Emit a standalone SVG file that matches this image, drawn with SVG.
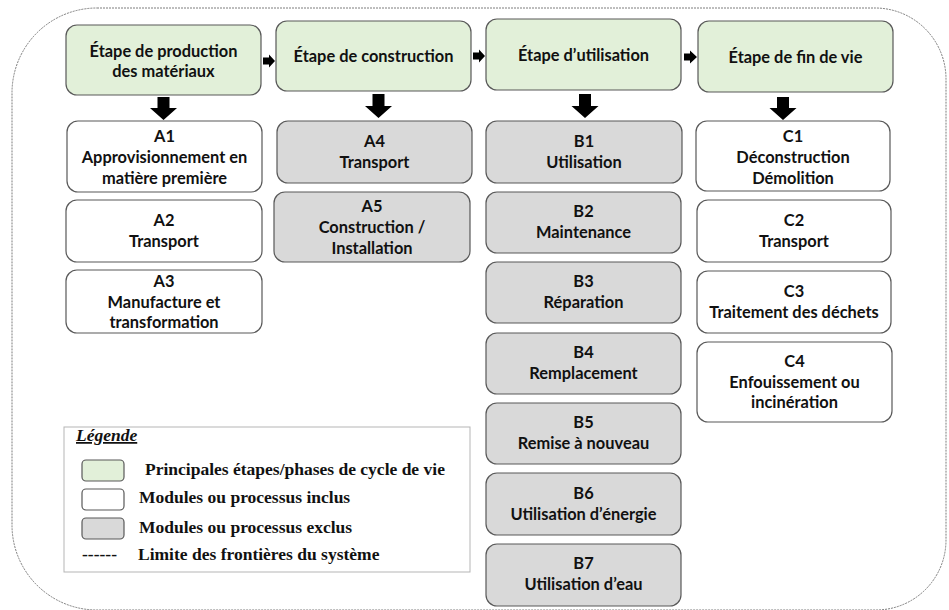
<svg xmlns="http://www.w3.org/2000/svg" width="949" height="610" viewBox="0 0 949 610">
  <defs>
    <style>
      .stage { fill: #e2f0d9; stroke: #595959; stroke-width: 1.2; }
      .incl { fill: #ffffff; stroke: #595959; stroke-width: 1.2; }
      .excl { fill: #d9d9d9; stroke: #595959; stroke-width: 1.2; }
      .t { font-family: Lato, "Open Sans", "Liberation Sans", sans-serif; font-weight: bold; font-size: 16.4px; fill: #111; text-anchor: middle; }
      .lg { font-family: "Liberation Serif", "Times New Roman", serif; font-weight: bold; font-size: 17.5px; fill: #111; }
      .arrow { fill: #000000; }
      .boundary { fill: none; stroke: #6e6e6e; stroke-width: 0.9; stroke-dasharray: 2 1; }
    </style>
  </defs>
  <rect width="949" height="610" fill="#ffffff"/>

  <!-- system boundary -->
  <path class="boundary" d="M 97 8 L 875 8 A 71 71 0 0 1 946 79 L 946 540 A 70 70 0 0 1 876 610 L 97 610 A 85 85 0 0 1 12 525 L 12 93 A 85 85 0 0 1 97 8 Z"/>

  <!-- life-cycle stages -->
  <g id="stage-production">
    <rect class="stage" x="66" y="25" width="195" height="70" rx="11"/>
    <text class="t" x="163.5" y="57">Étape de production</text>
    <text class="t" x="163.5" y="77">des matériaux</text>
  </g>
  <g id="stage-construction">
    <rect class="stage" x="276" y="21" width="195" height="70" rx="11"/>
    <text class="t" x="373.5" y="62">Étape de construction</text>
  </g>
  <g id="stage-utilisation">
    <rect class="stage" x="486" y="19" width="195" height="71" rx="11"/>
    <text class="t" x="583.5" y="61">Étape d’utilisation</text>
  </g>
  <g id="stage-fin-de-vie">
    <rect class="stage" x="698" y="21" width="195" height="71" rx="11"/>
    <text class="t" x="795.5" y="63">Étape de fin de vie</text>
  </g>

  <!-- modules A1-A3 -->
  <g id="A1">
    <rect class="incl" x="67" y="121" width="195" height="71" rx="11"/>
    <text class="t" x="164.5" y="142">A1</text>
    <text class="t" x="164.5" y="163">Approvisionnement en</text>
    <text class="t" x="164.5" y="184">matière première</text>
  </g>
  <g id="A2">
    <rect class="incl" x="66" y="200" width="196" height="62" rx="11"/>
    <text class="t" x="164" y="226">A2</text>
    <text class="t" x="164" y="247">Transport</text>
  </g>
  <g id="A3">
    <rect class="incl" x="66" y="270" width="196" height="63" rx="11"/>
    <text class="t" x="164" y="287">A3</text>
    <text class="t" x="164" y="308">Manufacture et</text>
    <text class="t" x="164" y="328">transformation</text>
  </g>

  <!-- modules A4-A5 -->
  <g id="A4">
    <rect class="excl" x="277" y="121" width="195" height="62" rx="11"/>
    <text class="t" x="374.5" y="147">A4</text>
    <text class="t" x="374.5" y="168">Transport</text>
  </g>
  <g id="A5">
    <rect class="excl" x="274" y="192" width="196" height="70" rx="11"/>
    <text class="t" x="372" y="212">A5</text>
    <text class="t" x="372" y="233">Construction /</text>
    <text class="t" x="372" y="254">Installation</text>
  </g>

  <!-- modules B1-B7 -->
  <g id="B1">
    <rect class="excl" x="486" y="121" width="196" height="62" rx="11"/>
    <text class="t" x="584" y="147">B1</text>
    <text class="t" x="584" y="168">Utilisation</text>
  </g>
  <g id="B2">
    <rect class="excl" x="486" y="192" width="195" height="61" rx="11"/>
    <text class="t" x="583.5" y="217">B2</text>
    <text class="t" x="583.5" y="238">Maintenance</text>
  </g>
  <g id="B3">
    <rect class="excl" x="486" y="262" width="195" height="61" rx="11"/>
    <text class="t" x="583.5" y="287">B3</text>
    <text class="t" x="583.5" y="308">Réparation</text>
  </g>
  <g id="B4">
    <rect class="excl" x="486" y="333" width="195" height="61" rx="11"/>
    <text class="t" x="583.5" y="358">B4</text>
    <text class="t" x="583.5" y="379">Remplacement</text>
  </g>
  <g id="B5">
    <rect class="excl" x="486" y="403" width="195" height="61" rx="11"/>
    <text class="t" x="583.5" y="428">B5</text>
    <text class="t" x="583.5" y="449">Remise à nouveau</text>
  </g>
  <g id="B6">
    <rect class="excl" x="486" y="473" width="195" height="62" rx="11"/>
    <text class="t" x="583.5" y="499">B6</text>
    <text class="t" x="583.5" y="520">Utilisation d’énergie</text>
  </g>
  <g id="B7">
    <rect class="excl" x="486" y="544" width="195" height="62" rx="11"/>
    <text class="t" x="583.5" y="569">B7</text>
    <text class="t" x="583.5" y="590">Utilisation d’eau</text>
  </g>

  <!-- modules C1-C4 -->
  <g id="C1">
    <rect class="incl" x="696" y="121" width="194" height="70" rx="11"/>
    <text class="t" x="793" y="142">C1</text>
    <text class="t" x="793" y="163">Déconstruction</text>
    <text class="t" x="793" y="184">Démolition</text>
  </g>
  <g id="C2">
    <rect class="incl" x="697" y="200" width="194" height="62" rx="11"/>
    <text class="t" x="794" y="226">C2</text>
    <text class="t" x="794" y="247">Transport</text>
  </g>
  <g id="C3">
    <rect class="incl" x="697" y="271" width="194" height="62" rx="11"/>
    <text class="t" x="794" y="297">C3</text>
    <text class="t" x="794" y="318">Traitement des déchets</text>
  </g>
  <g id="C4">
    <rect class="incl" x="697" y="342" width="195" height="80" rx="11"/>
    <text class="t" x="794.5" y="367">C4</text>
    <text class="t" x="794.5" y="388">Enfouissement ou</text>
    <text class="t" x="794.5" y="408">incinération</text>
  </g>

  <!-- block arrows -->
  <g id="connectors">
    <polygon class="arrow" points="263,57.5 269,57.5 269,54.5 275,61 269,67.5 269,64.5 263,64.5"/>
    <polygon class="arrow" points="473,52.5 479,52.5 479,49.5 485,56 479,62.5 479,59.5 473,59.5"/>
    <polygon class="arrow" points="684,53.5 690,53.5 690,50.5 697,57 690,63.5 690,60.5 684,60.5"/>
    <polygon class="arrow" points="157.5,97 169.5,97 169.5,108 177,108 163.5,120 150,108 157.5,108"/>
    <polygon class="arrow" points="372.5,94 384.5,94 384.5,106 392,106 378.5,118 365,106 372.5,106"/>
    <polygon class="arrow" points="579,94 591,94 591,106 598.5,106 585,118 571.5,106 579,106"/>
    <polygon class="arrow" points="777,97 789,97 789,108 796.5,108 783,120 769.5,108 777,108"/>
  </g>

  <!-- legend -->
  <g id="legend">
    <rect x="64" y="427" width="406" height="145" fill="#ffffff" stroke="#b5b5b5" stroke-width="1"/>
    <text class="lg" x="76" y="441" font-style="italic" text-decoration="underline">Légende</text>
    <rect class="stage" x="82" y="460" width="42" height="21" rx="4"/>
    <text class="lg" x="145" y="475">Principales étapes/phases de cycle de vie</text>
    <rect class="incl" x="82" y="489" width="42" height="21" rx="4"/>
    <text class="lg" x="139" y="503">Modules ou processus inclus</text>
    <rect class="excl" x="82" y="518" width="42" height="21" rx="4"/>
    <text class="lg" x="139" y="533">Modules ou processus exclus</text>
    <text class="lg" x="82" y="560">------</text>
    <text class="lg" x="138" y="560">Limite des frontières du système</text>
  </g>
</svg>
